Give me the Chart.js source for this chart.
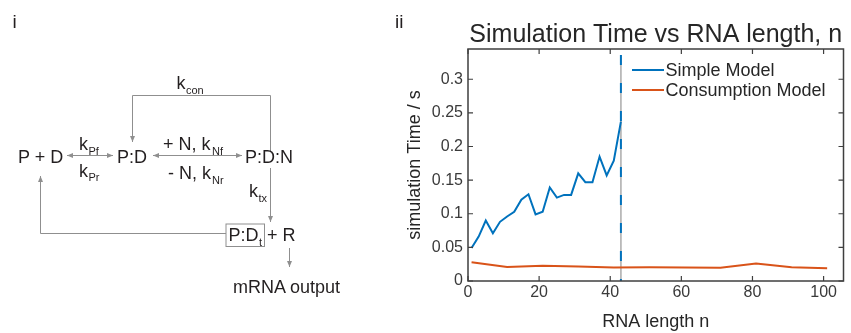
<!DOCTYPE html>
<html><head><meta charset="utf-8">
<script src="https://cdn.jsdelivr.net/npm/chart.js@4.4.1/dist/chart.umd.min.js"></script>
<style>
html,body{margin:0;padding:0;background:#fff;width:851px;height:333px;overflow:hidden}
#c{position:absolute;left:0;top:0;width:851px;height:333px}
#d{position:absolute;left:0;top:0}
</style></head><body>
<canvas id="c" width="851" height="333"></canvas>
<svg id="d" width="851" height="333" viewBox="0 0 851 333" font-family="'Liberation Sans', Arial, Helvetica, sans-serif" fill="#231f20">
<defs>
<marker id="ah" markerWidth="6" markerHeight="5" refX="6" refY="2.5" orient="auto-start-reverse" markerUnits="userSpaceOnUse"><path d="M0,0 L6,2.5 L0,5 z" fill="#8f8f8f"/></marker>
</defs>
<text x="12.5" y="28" font-size="19">i</text>
<text x="395" y="28" font-size="19">ii</text>
<g stroke="#8f8f8f" stroke-width="1" fill="none">
<path d="M132.5,142 L132.5,95.5 L270.5,95.5 L270.5,152" marker-start="url(#ah)"/>
<path d="M67,155.5 L113,155.5" marker-start="url(#ah)" marker-end="url(#ah)"/>
<path d="M153,155.5 L242,155.5" marker-start="url(#ah)" marker-end="url(#ah)"/>
<path d="M270.5,168 L270.5,222" marker-end="url(#ah)"/>
<rect x="226" y="224" width="38.5" height="22.5"/>
<path d="M226,233.5 L40.5,233.5 L40.5,176" marker-end="url(#ah)"/>
<path d="M289.5,248 L289.5,267" marker-end="url(#ah)"/>
</g>
<text x="176.5" y="89" font-size="18">k</text><text x="186" y="94" font-size="11">con</text>
<text x="18" y="163" font-size="18">P + D</text>
<text x="79" y="150" font-size="18">k</text><text x="88.5" y="154.5" font-size="11">Pf</text>
<text x="79" y="176.5" font-size="18">k</text><text x="88.5" y="181" font-size="11">Pr</text>
<text x="117" y="163" font-size="18">P:D</text>
<text x="163" y="150" font-size="18">+ N, k</text><text x="212" y="154.5" font-size="11">Nf</text>
<text x="168" y="179" font-size="18">- N, k</text><text x="212" y="183.5" font-size="11">Nr</text>
<text x="245" y="163" font-size="18">P:D:N</text>
<text x="249" y="196.5" font-size="18">k</text><text x="258.5" y="202" font-size="11">tx</text>
<text x="228.5" y="240.5" font-size="18">P:D</text><text x="259" y="245.5" font-size="11">t</text>
<text x="267" y="240.5" font-size="18">+ R</text>
<text x="233" y="293" font-size="18">mRNA output</text>
</svg>
<script>
// ---- data ----
const simpleX = [1, 3, 5, 7, 9, 11, 13, 15, 17, 19, 21, 23, 25, 27, 29, 31, 33, 35, 37, 39, 41, 43];
const simpleY = [0.049, 0.066, 0.090, 0.071, 0.088, 0.096, 0.103, 0.121, 0.129, 0.099, 0.103, 0.139, 0.124, 0.128, 0.128, 0.160, 0.147, 0.147, 0.185, 0.157, 0.179, 0.237];
const consX = [1, 11, 21, 31, 41, 51, 61, 71, 81, 91, 101];
const consY = [0.028, 0.021, 0.0225, 0.0215, 0.020, 0.0205, 0.020, 0.0198, 0.026, 0.0203, 0.019];
const cutoffX = [43, 43];
const cutoffY = [0.336, 0];
const seriesNames = ['Simple Model', 'Consumption Model'];
const xTicks = [0, 20, 40, 60, 80, 100];
const xTickLabels = ['0', '20', '40', '60', '80', '100'];
const yTicks = [0, 0.05, 0.1, 0.15, 0.2, 0.25, 0.3];
const yTickLabels = ['0', '0.05', '0.1', '0.15', '0.2', '0.25', '0.3'];
const chartTitle = 'Simulation Time vs RNA length, n';
const xTitle = 'RNA length n';
const yTitle = 'simulation Time / s';

// ---- styles ----
const FONT = "'Liberation Sans', Arial, Helvetica, sans-serif";
const BLUE = '#0072BD', ORANGE = '#D95319';
const AXIS = '#3f3f3f', TXT = '#262626', TICKTXT = '#3a3a3a';

const pts = (xs, ys) => xs.map((x, i) => ({x, y: ys[i]}));

const decor = {
  id: 'decor',
  afterDraw(chart) {
    const {ctx, chartArea: a, scales: {x, y}} = chart;
    ctx.save();
    // axes box
    ctx.strokeStyle = AXIS; ctx.lineWidth = 1.5;
    ctx.strokeRect(a.left, a.top, a.right - a.left, a.bottom - a.top);
    // inward ticks on all four sides
    const tl = 5;
    ctx.lineWidth = 1.2;
    ctx.beginPath();
    xTicks.forEach(v => {
      const p = x.getPixelForValue(v);
      ctx.moveTo(p, a.bottom); ctx.lineTo(p, a.bottom - tl);
      ctx.moveTo(p, a.top); ctx.lineTo(p, a.top + tl);
    });
    yTicks.forEach(v => {
      const p = y.getPixelForValue(v);
      ctx.moveTo(a.left, p); ctx.lineTo(a.left + tl, p);
      ctx.moveTo(a.right, p); ctx.lineTo(a.right - tl, p);
    });
    ctx.stroke();
    // title
    ctx.fillStyle = TXT;
    ctx.font = '25px ' + FONT;
    ctx.textAlign = 'center'; ctx.textBaseline = 'alphabetic';
    ctx.fillText(chartTitle, (a.left + a.right) / 2, 41.5);
    // legend
    ctx.font = '18px ' + FONT;
    ctx.textAlign = 'left'; ctx.textBaseline = 'middle';
    const colors = [BLUE, ORANGE];
    const lx0 = 632, lx1 = 664, ly = [70, 90];
    seriesNames.forEach((n, i) => {
      ctx.strokeStyle = colors[i]; ctx.lineWidth = 2;
      ctx.beginPath(); ctx.moveTo(lx0, ly[i]); ctx.lineTo(lx1, ly[i]); ctx.stroke();
      ctx.fillStyle = TXT;
      ctx.fillText(n, 665.5, ly[i] + 1);
    });
    ctx.restore();
  }
};

new Chart(document.getElementById('c'), {
  type: 'line',
  data: {
    datasets: [
      {label: seriesNames[0], data: pts(simpleX, simpleY), borderColor: BLUE, borderWidth: 2, pointRadius: 0, tension: 0, fill: false},
      {label: seriesNames[1], data: pts(consX, consY), borderColor: ORANGE, borderWidth: 2, pointRadius: 0, tension: 0, fill: false},
      {label: 'cutoff', data: pts(cutoffX, cutoffY), borderColor: BLUE, borderWidth: 2, borderDash: [10, 18], pointRadius: 0, fill: false},
      {label: 'cutoffGuide', data: pts(cutoffX, cutoffY), borderColor: '#b5b5b5', borderWidth: 1, pointRadius: 0, fill: false}
    ]
  },
  options: {
    responsive: false,
    animation: false,
    devicePixelRatio: 1,
    events: [],
    layout: {padding: {left: 400, right: 7.5, top: 49, bottom: 0}},
    plugins: {legend: {display: false}, tooltip: {enabled: false}, title: {display: false}},
    scales: {
      x: {
        type: 'linear', min: 0, max: 105.6,
        afterBuildTicks: s => { s.ticks = xTicks.map(v => ({value: v})); },
        afterFit: s => { s.height = 52; },
        grid: {display: false, drawTicks: false},
        border: {display: false},
        ticks: {font: {family: FONT, size: 16}, color: TICKTXT, padding: 2, maxRotation: 0, autoSkip: false,
                callback: (v, i) => xTickLabels[i]},
        title: {display: true, text: xTitle, font: {family: FONT, size: 18}, color: TXT, padding: {top: 0, bottom: 0}}
      },
      y: {
        type: 'linear', min: 0, max: 0.345,
        afterBuildTicks: s => { s.ticks = yTicks.map(v => ({value: v})); },
        afterFit: s => { s.width = 68; },
        grid: {display: false, drawTicks: false},
        border: {display: false},
        ticks: {font: {family: FONT, size: 16}, color: TICKTXT, padding: 5, autoSkip: false,
                callback: (v, i) => yTickLabels[i]},
        title: {display: true, text: yTitle, font: {family: FONT, size: 18}, color: TXT, padding: {top: 4, bottom: 0}}
      }
    }
  },
  plugins: [decor]
});
</script>
</body></html>
